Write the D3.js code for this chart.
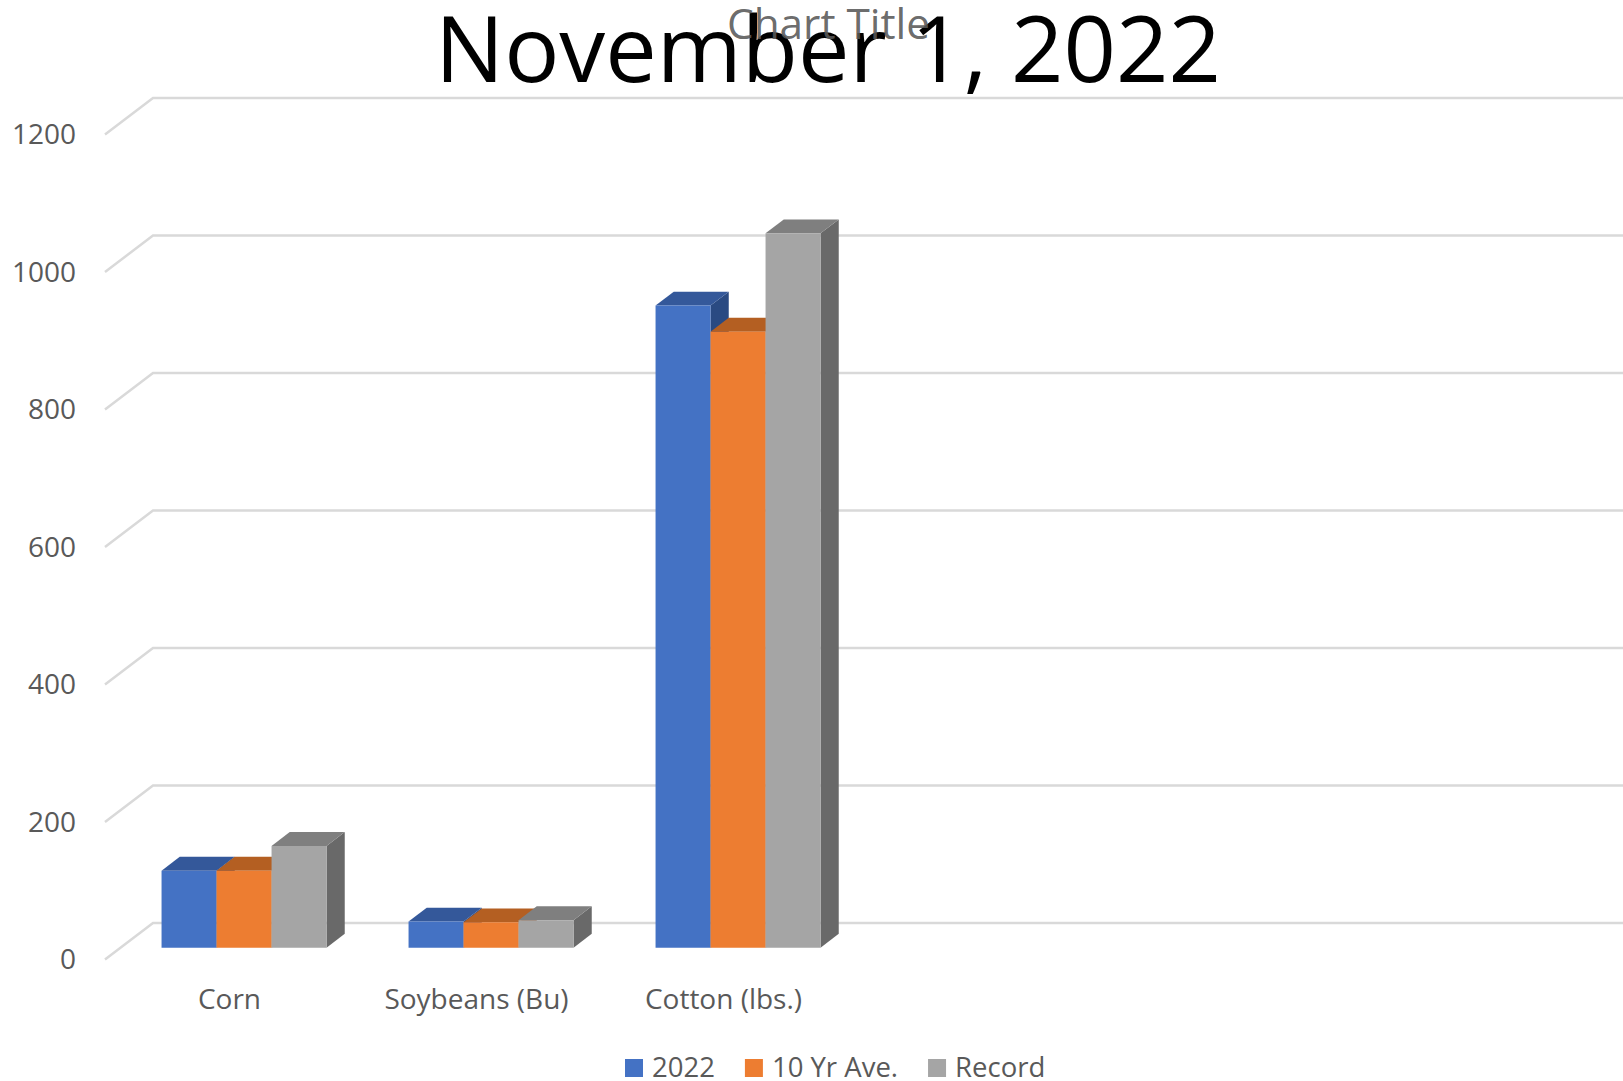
<!DOCTYPE html>
<html>
<head>
<meta charset="utf-8">
<script src="https://cdn.jsdelivr.net/npm/d3@7"></script>
<style>
  html, body { margin: 0; padding: 0; background: #fff; }
  svg { display: block; font-family: "Open Sans", sans-serif; }
</style>
</head>
<body>
<svg id="chart"></svg>
<script>
// 3-D clustered column chart, November 1, 2022

const categories = ['Corn', 'Soybeans (Bu)', 'Cotton (lbs.)', '', '', ''];
const seriesNames = ['2022', '10 Yr Ave.', 'Record'];
const values2022 = [112, 38, 934];
const values10Yr = [112, 37, 896];
const valuesRecord = [148, 40, 1039];
const yTicks = [0, 200, 400, 600, 800, 1000, 1200];

const width = 1623, height = 1081;

const svg = d3.select('#chart')
  .attr('width', width)
  .attr('height', height);

// oblique projection: depth 0 = front of floor, depth 1 = back wall
const depthX = 48, depthY = 36.5;
const floorLeft = 105;
const barFront = 0.324, barBack = 0.703;

const x = d3.scaleBand()
  .domain(categories.map((c, i) => i))
  .range([floorLeft, floorLeft + 6 * 247])
  .paddingInner(0.332)
  .paddingOuter(0.166);

const x1 = d3.scaleBand()
  .domain(seriesNames)
  .range([0, x.bandwidth()]);

// y on the back wall
const y = d3.scaleLinear().domain([0, 1200]).range([923, 98]);

function proj(px, v, depth){
  return [px + depth * depthX, y(v) + (1 - depth) * depthY];
}

const faces = {
  '2022':       { front: '#4472C4', top: '#34589A', side: '#2A4A82' },
  '10 Yr Ave.': { front: '#ED7D31', top: '#B45F22', side: '#9E521D' },
  'Record':     { front: '#A5A5A5', top: '#7F7F7F', side: '#696969' }
};

// gridlines: diagonal on the left wall, then along the back wall
const grid = svg.append('g')
  .attr('fill', 'none')
  .attr('stroke', '#d9d9d9')
  .attr('stroke-width', 2.5);

grid.selectAll('path')
  .data(yTicks)
  .join('path')
    .attr('d', d => {
      const a = proj(floorLeft, d, 0);
      const b = proj(floorLeft, d, 1);
      return `M${a}L${b}L${width},${b[1]}`;
    });

// tick labels
svg.append('g')
  .attr('fill', '#595959')
  .attr('font-size', 28)
  .attr('text-anchor', 'end')
  .selectAll('text')
  .data(yTicks)
  .join('text')
    .attr('x', 76)
    .attr('y', d => proj(floorLeft, d, 0)[1])
    .attr('dy', '0.35em')
    .text(d => d);

// bars
const rows = [];
categories.slice(0, 3).forEach((c, i) => {
  [values2022, values10Yr, valuesRecord].forEach((vals, s) => {
    rows.push({ cat: i, series: seriesNames[s], value: vals[i] });
  });
});

const poly = pts => 'M' + pts.map(p => p.join(',')).join('L') + 'Z';

const bars = svg.append('g')
  .selectAll('g')
  .data(rows)
  .join('g');

bars.each(function(d){
  const g = d3.select(this);
  const x0 = x(d.cat) + x1(d.series);
  const x2 = x0 + x1.bandwidth();
  const c = faces[d.series];
  // side face
  g.append('path')
    .attr('fill', c.side)
    .attr('d', poly([proj(x2, 0, barFront), proj(x2, 0, barBack), proj(x2, d.value, barBack), proj(x2, d.value, barFront)]));
  // top face
  g.append('path')
    .attr('fill', c.top)
    .attr('d', poly([proj(x0, d.value, barFront), proj(x2, d.value, barFront), proj(x2, d.value, barBack), proj(x0, d.value, barBack)]));
  // front face
  g.append('path')
    .attr('fill', c.front)
    .attr('d', poly([proj(x0, 0, barFront), proj(x2, 0, barFront), proj(x2, d.value, barFront), proj(x0, d.value, barFront)]));
});

// category labels
svg.append('g')
  .attr('fill', '#595959')
  .attr('font-size', 28)
  .attr('text-anchor', 'middle')
  .selectAll('text')
  .data(categories.map((c, i) => ({ c, i })).filter(d => d.c))
  .join('text')
    .attr('x', d => x(d.i) + x.bandwidth() / 2 + 1)
    .attr('y', 1009)
    .text(d => d.c);

// legend
const legend = svg.append('g')
  .attr('font-size', 27.5)
  .attr('fill', '#595959');

let lx = 625;
seriesNames.forEach(name => {
  legend.append('rect')
    .attr('x', lx).attr('y', 1059)
    .attr('width', 18).attr('height', 18)
    .attr('fill', faces[name].front);
  const t = legend.append('text')
    .attr('x', lx + 27)
    .attr('y', 1077)
    .text(name);
  lx += 27 + t.node().getComputedTextLength() + 30;
});

// titles
svg.append('text')
  .attr('x', 435)
  .attr('y', 82)
  .attr('font-size', 92)
  .attr('fill', '#000')
  .attr('textLength', 786)
  .attr('lengthAdjust', 'spacingAndGlyphs')
  .text('November 1, 2022');

svg.append('text')
  .attr('x', 727)
  .attr('y', 39)
  .attr('font-size', 42)
  .attr('fill', '#595959')
  .attr('fill-opacity', 0.9)
  .attr('textLength', 203)
  .attr('lengthAdjust', 'spacingAndGlyphs')
  .text('Chart Title');
</script>
</body>
</html>
